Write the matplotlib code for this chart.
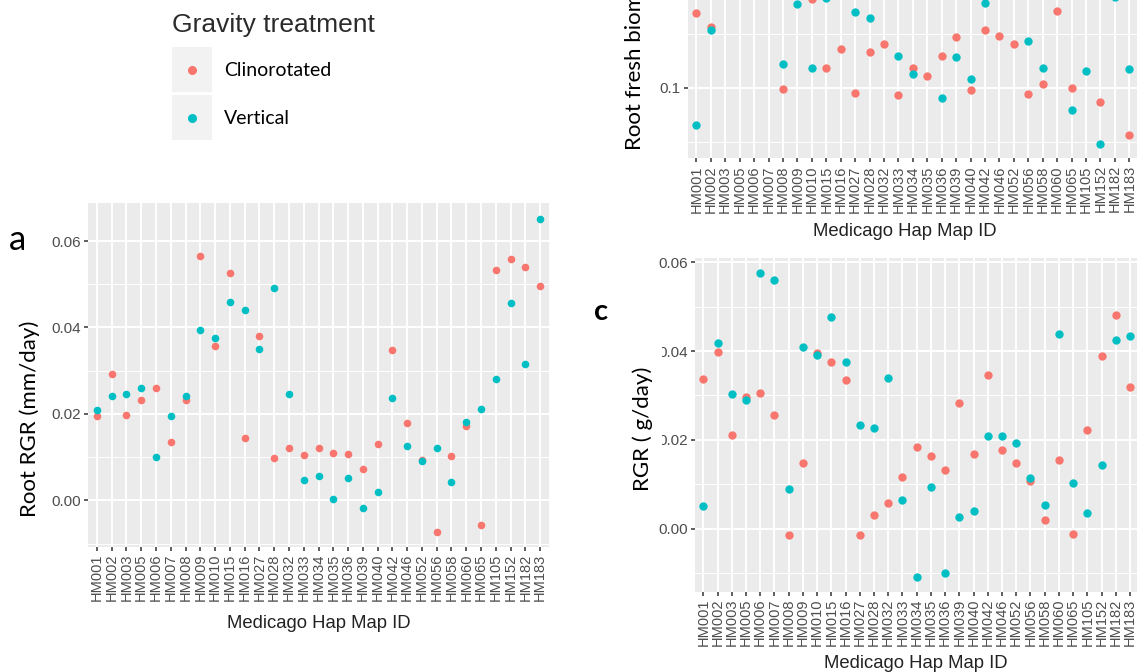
import numpy as np
import matplotlib.pyplot as plt
from matplotlib.patches import Rectangle

W, H = 1137, 672

hap_ids = ['HM001', 'HM002', 'HM003', 'HM005', 'HM006', 'HM007', 'HM008', 'HM009',
           'HM010', 'HM015', 'HM016', 'HM027', 'HM028', 'HM032', 'HM033', 'HM034',
           'HM035', 'HM036', 'HM039', 'HM040', 'HM042', 'HM046', 'HM052', 'HM056',
           'HM058', 'HM060', 'HM065', 'HM105', 'HM152', 'HM182', 'HM183']
groups = ['Clinorotated', 'Vertical']
nan = np.nan

# panel a - root RGR (mm/day)
root_rgr_clino = [0.0194, 0.0292, 0.0198, 0.0232, 0.0261, 0.0134, 0.0231, 0.0566,
                  0.0357, 0.0527, 0.0145, 0.0381, 0.0098, 0.0121, 0.0106, 0.0122,
                  0.0110, 0.0107, 0.0073, 0.0131, 0.0348, 0.0179, 0.0093, -0.0073,
                  0.0102, 0.0172, -0.0056, 0.0533, 0.0559, 0.0541, 0.0497]
root_rgr_vert = [0.0210, 0.0242, 0.0246, 0.0261, 0.0100, 0.0194, 0.0241, 0.0395,
                 0.0375, 0.0460, 0.0440, 0.0351, 0.0491, 0.0245, 0.0047, 0.0056,
                 0.0003, 0.0052, -0.0017, 0.0020, 0.0237, 0.0126, 0.0090, 0.0120,
                 0.0043, 0.0182, 0.0212, 0.0280, 0.0457, 0.0315, 0.0651]

# panel b - root fresh biomass (only the part below the crop is known)
biomass_clino = [0.169, 0.156, nan, nan, nan, nan, 0.099, nan,
                 0.182, 0.1185, 0.136, 0.095, 0.133, 0.140, 0.093, 0.1185,
                 0.111, 0.129, 0.147, 0.098, 0.1535, 0.148, 0.140, 0.094,
                 0.1035, 0.1705, 0.0995, nan, 0.087, nan, 0.056]
biomass_vert = [0.066, 0.153, nan, nan, nan, nan, 0.122, 0.177,
                0.1185, 0.1825, nan, 0.1695, 0.164, nan, 0.129, 0.113,
                nan, 0.0905, 0.1285, 0.108, 0.178, nan, nan, 0.143,
                0.118, nan, 0.079, 0.115, 0.048, 0.1835, 0.117]

# panel c - RGR (g/day)
rgr_clino = [0.0336, 0.0399, 0.0211, 0.0297, 0.0306, 0.0257, -0.0015, 0.0148,
             0.0396, 0.0375, 0.0334, -0.0015, 0.0031, 0.0057, 0.0116, 0.0184,
             0.0164, 0.0133, 0.0282, 0.0169, 0.0346, 0.0178, 0.0149, 0.0108,
             0.0019, 0.0154, -0.0011, 0.0223, 0.0390, 0.0482, 0.0320]
rgr_vert = [0.0051, 0.0419, 0.0304, 0.0289, 0.0575, 0.0559, 0.0090, 0.0409,
            0.0392, 0.0476, 0.0375, 0.0233, 0.0227, 0.0339, 0.0065, -0.0108,
            0.0093, -0.0100, 0.0027, 0.0040, 0.0209, 0.0209, 0.0193, 0.0114,
            0.0053, 0.0438, 0.0102, 0.0035, 0.0144, 0.0426, 0.0434]

RED = '#F8766D'
TEAL = '#00BFC4'
TICK_FONT = 'Liberation Sans'
LABEL_FONT = 'Lato'

fig = plt.figure(figsize=(W / 100, H / 100), dpi=100)


def px_rect(left, top, right, bottom):
    return [left / W, 1 - bottom / H, (right - left) / W, (bottom - top) / H]


def px(x, y):
    return x / W, 1 - y / H


def gg_panel(rect, ylim, major, major_labels, minor, clino, vert, size):
    ax = fig.add_axes(rect)
    ax.set_facecolor('#EBEBEB')
    for s in ax.spines.values():
        s.set_visible(False)
    x = np.arange(len(hap_ids))
    ax.set_xticks(x)
    ax.set_xticklabels(hap_ids, rotation=90, fontsize=10.5, color='#4D4D4D', family=TICK_FONT)
    ax.set_xlim(-0.6, len(hap_ids) - 0.4)
    ax.set_ylim(*ylim)
    ax.set_yticks(major)
    ax.set_yticklabels(major_labels, fontsize=11, color='#4D4D4D', family=TICK_FONT)
    ax.set_yticks(minor, minor=True)
    ax.grid(True, which='major', color='white', lw=1.4)
    ax.grid(True, which='minor', axis='y', color='white', lw=0.7)
    ax.set_axisbelow(True)
    ax.tick_params(which='major', length=3, width=1.1, color='#333333', pad=2)
    ax.tick_params(which='minor', length=0)
    ax.scatter(x, np.array(clino, dtype=float), s=size, color=RED, lw=0, zorder=3)
    ax.scatter(x, np.array(vert, dtype=float), s=size, color=TEAL, lw=0, zorder=4)
    return ax


# a
gg_panel(px_rect(88, 203, 549, 547), (-0.0108, 0.0688),
         [0.0, 0.02, 0.04, 0.06], ['0.00', '0.02', '0.04', '0.06'],
         [-0.01, 0.01, 0.03, 0.05], root_rgr_clino, root_rgr_vert, 30)

# b (cropped at the top of the picture; the 0.2 break lies above the crop)
gg_panel(px_rect(687.7, -120, 1138, 158.3), (0.0349, 0.2916),
         [0.1, 0.2], ['0.1', ''],
         [0.05, 0.15, 0.25], biomass_clino, biomass_vert, 36)

# c (cropped at the right)
gg_panel(px_rect(694.8, 258.3, 1138.5, 591.7), (-0.0142, 0.0609),
         [0.0, 0.02, 0.04, 0.06], ['0.00', '0.02', '0.04', '0.06'],
         [-0.01, 0.01, 0.03, 0.05], rgr_clino, rgr_vert, 36)

# axis titles
for (x, y) in [(318.5, 624), (905, 232), (916, 664)]:
    fig.text(*px(x, y), 'Medicago Hap Map ID', ha='center', va='center',
             fontsize=13.3, color='#222222', family=TICK_FONT)

fig.text(*px(30, 419), 'Root RGR (mm/day)', rotation=90, ha='center', va='center',
         fontsize=16, color='black', family=LABEL_FONT)
fig.text(*px(635, 150), 'Root fresh biomass (g)', rotation=90, ha='center', va='bottom',
         fontsize=16, color='black', family=LABEL_FONT)
# white box of the pasted label covers part of the tick labels in c
fig.add_artist(Rectangle(px(622, 500), 40 / W, 210 / H, transform=fig.transFigure,
                         facecolor='white', edgecolor='none', zorder=5))
fig.text(*px(643, 429), 'RGR ( g/day)', rotation=90, ha='center', va='center',
         fontsize=16, color='black', family=LABEL_FONT, zorder=6)

# panel letters
fig.text(*px(17, 240), 'a', ha='center', va='center', fontsize=25, family=LABEL_FONT)
fig.text(*px(601, 312), 'c', ha='center', va='center', fontsize=21,
         fontweight='bold', family=LABEL_FONT)

# legend
fig.text(*px(172, 25), 'Gravity treatment', ha='left', va='center',
         fontsize=19, color='#2b2b2b', family=TICK_FONT)
for i, (lab, col) in enumerate(zip(groups, [RED, TEAL])):
    top = 47 + i * 47.5
    fig.add_artist(Rectangle(px(172, top + 45), 40 / W, 45 / H, transform=fig.transFigure,
                             facecolor='#F2F2F2', edgecolor='none'))
    fig.add_artist(plt.Line2D([192 / W], [1 - (top + 23) / H], marker='o', ms=6.5,
                              color=col, mec='none', transform=fig.transFigure))
    fig.text(*px(224, top + 24), lab, ha='left', va='center',
             fontsize=14, color='black', family=LABEL_FONT)

fig.savefig('out.png', dpi=100)
